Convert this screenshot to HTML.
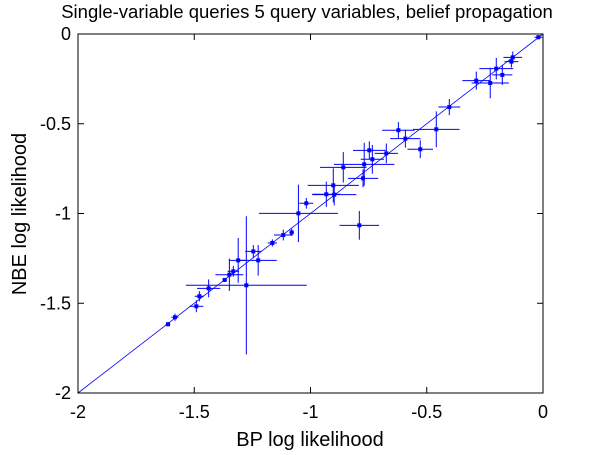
<!DOCTYPE html>
<html><head><meta charset="utf-8"><style>
body{margin:0;background:#fff;}
svg text{font-family:"Liberation Sans",sans-serif;fill:#000;}
</style></head><body>
<svg id="chart" width="600" height="450" xmlns="http://www.w3.org/2000/svg">
<rect x="0" y="0" width="600" height="450" fill="#fff"/>
<text x="307" y="18" font-size="18.5" text-anchor="middle">Single-variable queries 5 query variables, belief propagation</text>
<text x="310" y="446" font-size="20" text-anchor="middle">BP log likelihood</text>
<text transform="translate(26,214) rotate(-90)" font-size="20" text-anchor="middle">NBE log likelihood</text>
<g id="ticks"></g>
<g id="marks"></g>
<rect x="78" y="34" width="465" height="359" fill="none" stroke="#000" stroke-width="1"/>
</svg>
<script>
const xs=[-1.613,-1.583,-1.491,-1.478,-1.438,-1.369,-1.349,-1.332,-1.311,-1.276,-1.246,-1.225,-1.164,-1.117,-1.081,-1.052,-1.018,-0.932,-0.902,-0.898,-0.859,-0.79,-0.774,-0.769,-0.747,-0.734,-0.674,-0.622,-0.592,-0.528,-0.459,-0.403,-0.287,-0.227,-0.201,-0.175,-0.136,-0.13,-0.02];
const ys=[-1.617,-1.578,-1.517,-1.461,-1.417,-1.37,-1.341,-1.322,-1.261,-1.4,-1.211,-1.261,-1.164,-1.12,-1.105,-0.999,-0.943,-0.893,-0.843,-0.895,-0.743,-1.066,-0.804,-0.726,-0.648,-0.698,-0.665,-0.536,-0.583,-0.642,-0.531,-0.407,-0.26,-0.273,-0.193,-0.228,-0.154,-0.13,-0.018];
const xerr=[0.01,0.015,0.03,0.02,0.05,0.01,0.06,0.025,0.04,0.26,0.035,0.08,0.02,0.04,0.01,0.17,0.03,0.06,0.11,0.095,0.1,0.085,0.065,0.13,0.07,0.05,0.05,0.07,0.065,0.055,0.1,0.047,0.06,0.08,0.073,0.043,0.03,0.04,0.017];
const yerr=[0.011,0.02,0.033,0.028,0.05,0.01,0.09,0.03,0.125,0.385,0.035,0.085,0.02,0.03,0.02,0.16,0.03,0.07,0.095,0.06,0.085,0.08,0.05,0.12,0.05,0.08,0.055,0.045,0.05,0.05,0.1,0.045,0.05,0.085,0.06,0.056,0.033,0.033,0.011];
const xTicks=[-2,-1.5,-1,-0.5,0];
const yTicks=[0,-0.5,-1,-1.5,-2];
const xTickLabels=["-2","-1.5","-1","-0.5","0"];
const yTickLabels=["0","-0.5","-1","-1.5","-2"];
const X0=78,X1=543,Y0=34,Y1=393;
const sx=v=>X0+(v+2)/2*(X1-X0);
const sy=v=>Y0+(-v)/2*(Y1-Y0);
const NS="http://www.w3.org/2000/svg";
const tg=document.getElementById('ticks'), mg=document.getElementById('marks');
function mk(tag,attrs,parent){const e=document.createElementNS(NS,tag);for(const k in attrs)e.setAttribute(k,attrs[k]);parent.appendChild(e);return e;}
xTicks.forEach((t,i)=>{const x=sx(t);
 const a=mk('line',{x1:x,x2:x,y1:Y1,y2:Y1-6,stroke:'#000'},tg);
 
 
 const b=mk('line',{x1:x,x2:x,y1:Y0,y2:Y0+6,stroke:'#000'},tg);
 
 
 const l=mk('text',{x:x,y:418,'font-size':18,'text-anchor':'middle'},tg);l.textContent=xTickLabels[i];
 
 
});
yTicks.forEach((t,i)=>{const y=sy(t);
 const a=mk('line',{x1:X0,x2:X0+6,y1:y,y2:y,stroke:'#000'},tg);
 
 
 const b=mk('line',{x1:X1,x2:X1-6,y1:y,y2:y,stroke:'#000'},tg);
 
 
 const l=mk('text',{x:71,y:y+6,'font-size':18,'text-anchor':'end'},tg);l.textContent=yTickLabels[i];
 
 
});
const diag=mk('line',{x1:sx(-2),y1:sy(-2),x2:sx(0),y2:sy(0),stroke:'#00f','stroke-width':0.8},mg);


xs.forEach((x,i)=>{const y=ys[i];
 const h=mk('line',{x1:sx(x-xerr[i]),x2:sx(x+xerr[i]),y1:sy(y),y2:sy(y),stroke:'#00f','stroke-width':1},mg);
 
 
 const v=mk('line',{x1:sx(x),x2:sx(x),y1:sy(y-yerr[i]),y2:sy(y+yerr[i]),stroke:'#00f','stroke-width':1},mg);
 
 
 const p=mk('rect',{x:sx(x)-2,y:sy(y)-2,width:4,height:4,fill:'#00f'},mg);
 
 
});
</script>
</body></html>
